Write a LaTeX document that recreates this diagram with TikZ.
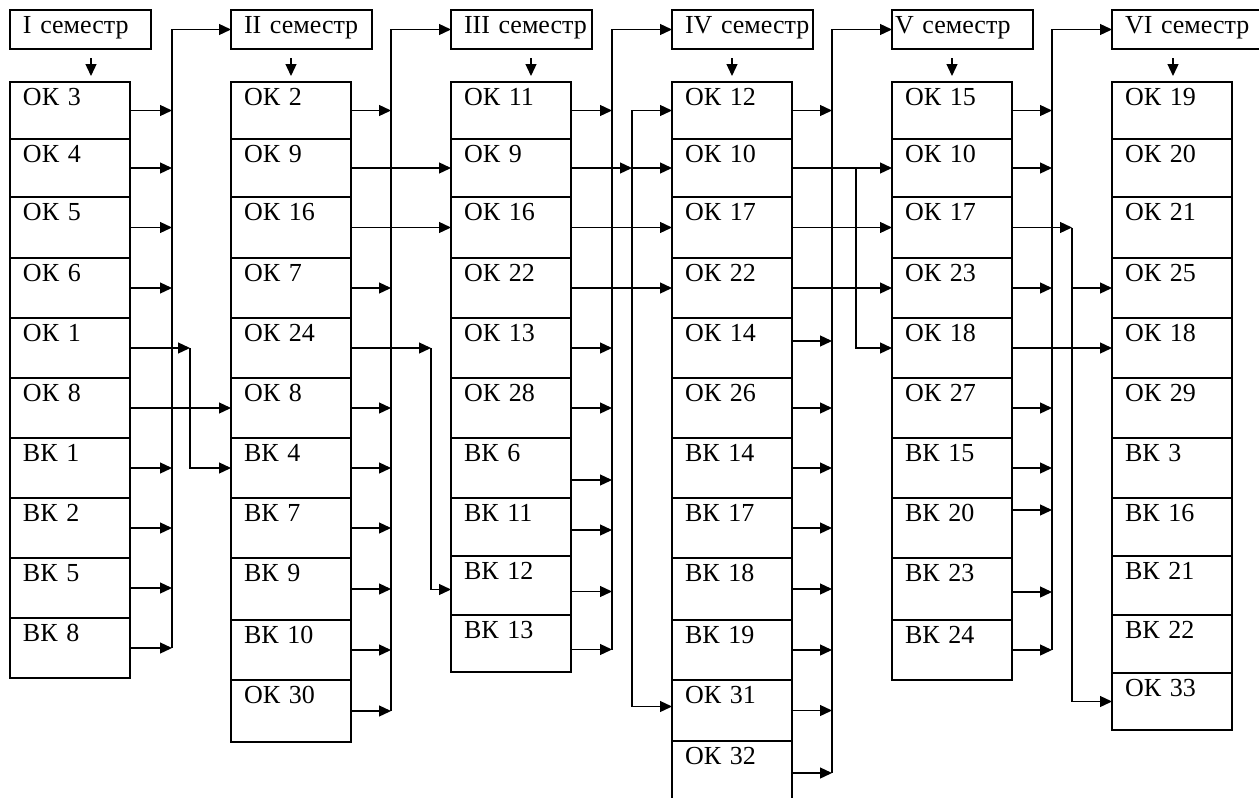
\documentclass[tikz,border=0pt]{standalone}
\usepackage{fontspec}
\setmainfont{Liberation Serif}
\usetikzlibrary{arrows.meta,calc}
\tikzset{
  ln/.style={line width=1.3pt, draw=black},
  arr/.style={ln, -{Triangle[length=12pt,width=11pt]}},
  cell/.style={draw=black, line width=1.3pt, anchor=north west, outer sep=0pt,
    inner xsep=13pt, inner ysep=0pt, text width=94pt, align=left,
    text height=23pt, font=\fontsize{26}{30}\selectfont},
  hdr/.style={cell, text width=115pt, text depth=16pt},
}
\newcommand\cellbox[5]{\pgfmathsetmacro\cbdepth{#4-#3-23}\node[cell, text depth=\cbdepth pt] (#1) at (#2,#3) {#5};}
\begin{document}
\begin{tikzpicture}[x=1pt,y=-1pt]
\useasboundingbox (0,0) rectangle (1259,798);
% headers
\node[hdr] (h1) at (10,10) {\rlap{I семестр}};
\node[hdr] (h2) at (231,10) {\rlap{II семестр}};
\node[hdr] (h3) at (451,10) {\rlap{III семестр}};
\node[hdr] (h4) at (672,10) {\rlap{IV семестр}};
\node[hdr, inner xsep=3pt, text width=135pt] (h5) at (892,10) {\rlap{V семестр}};
\node[hdr, text width=140pt] (h6) at (1112,10) {\rlap{VI семестр}};
% column I
\cellbox{c1r1}{10}{82}{139}{ОК 3}
\cellbox{c1r2}{10}{139}{197}{ОК 4}
\cellbox{c1r3}{10}{197}{258}{ОК 5}
\cellbox{c1r4}{10}{258}{318}{ОК 6}
\cellbox{c1r5}{10}{318}{378}{ОК 1}
\cellbox{c1r6}{10}{378}{438}{ОК 8}
\cellbox{c1r7}{10}{438}{498}{ВК 1}
\cellbox{c1r8}{10}{498}{558}{ВК 2}
\cellbox{c1r9}{10}{558}{618}{ВК 5}
\cellbox{c1r10}{10}{618}{678}{ВК 8}
% column II
\cellbox{c2r1}{231}{82}{139}{ОК 2}
\cellbox{c2r2}{231}{139}{197}{ОК 9}
\cellbox{c2r3}{231}{197}{258}{ОК 16}
\cellbox{c2r4}{231}{258}{318}{ОК 7}
\cellbox{c2r5}{231}{318}{378}{ОК 24}
\cellbox{c2r6}{231}{378}{438}{ОК 8}
\cellbox{c2r7}{231}{438}{498}{ВК 4}
\cellbox{c2r8}{231}{498}{558}{ВК 7}
\cellbox{c2r9}{231}{558}{620}{ВК 9}
\cellbox{c2r10}{231}{620}{680}{ВК 10}
\cellbox{c2r11}{231}{680}{742}{ОК 30}
% column III
\cellbox{c3r1}{451}{82}{139}{ОК 11}
\cellbox{c3r2}{451}{139}{197}{ОК 9}
\cellbox{c3r3}{451}{197}{258}{ОК 16}
\cellbox{c3r4}{451}{258}{318}{ОК 22}
\cellbox{c3r5}{451}{318}{378}{ОК 13}
\cellbox{c3r6}{451}{378}{438}{ОК 28}
\cellbox{c3r7}{451}{438}{498}{ВК 6}
\cellbox{c3r8}{451}{498}{556}{ВК 11}
\cellbox{c3r9}{451}{556}{615}{ВК 12}
\cellbox{c3r10}{451}{615}{672}{ВК 13}
% column IV
\cellbox{c4r1}{672}{82}{139}{ОК 12}
\cellbox{c4r2}{672}{139}{197}{ОК 10}
\cellbox{c4r3}{672}{197}{258}{ОК 17}
\cellbox{c4r4}{672}{258}{318}{ОК 22}
\cellbox{c4r5}{672}{318}{378}{ОК 14}
\cellbox{c4r6}{672}{378}{438}{ОК 26}
\cellbox{c4r7}{672}{438}{498}{ВК 14}
\cellbox{c4r8}{672}{498}{558}{ВК 17}
\cellbox{c4r9}{672}{558}{620}{ВК 18}
\cellbox{c4r10}{672}{620}{680}{ВК 19}
\cellbox{c4r11}{672}{680}{741}{ОК 31}
\cellbox{c4r12}{672}{741}{805}{ОК 32}
% column V
\cellbox{c5r1}{892}{82}{139}{ОК 15}
\cellbox{c5r2}{892}{139}{197}{ОК 10}
\cellbox{c5r3}{892}{197}{258}{ОК 17}
\cellbox{c5r4}{892}{258}{318}{ОК 23}
\cellbox{c5r5}{892}{318}{378}{ОК 18}
\cellbox{c5r6}{892}{378}{438}{ОК 27}
\cellbox{c5r7}{892}{438}{498}{ВК 15}
\cellbox{c5r8}{892}{498}{558}{ВК 20}
\cellbox{c5r9}{892}{558}{620}{ВК 23}
\cellbox{c5r10}{892}{620}{680}{ВК 24}
% column VI
\cellbox{c6r1}{1112}{82}{139}{ОК 19}
\cellbox{c6r2}{1112}{139}{197}{ОК 20}
\cellbox{c6r3}{1112}{197}{258}{ОК 21}
\cellbox{c6r4}{1112}{258}{318}{ОК 25}
\cellbox{c6r5}{1112}{318}{378}{ОК 18}
\cellbox{c6r6}{1112}{378}{438}{ОК 29}
\cellbox{c6r7}{1112}{438}{498}{ВК 3}
\cellbox{c6r8}{1112}{498}{556}{ВК 16}
\cellbox{c6r9}{1112}{556}{615}{ВК 21}
\cellbox{c6r10}{1112}{615}{673}{ВК 22}
\cellbox{c6r11}{1112}{673}{730}{ОК 33}
% down arrows under headers
\draw[arr] ($(h1.south west)+(81,9)$) -- ($(c1r1.north west)+(81,-6)$);
\draw[arr] ($(h2.south west)+(60,9)$) -- ($(c2r1.north west)+(60,-6)$);
\draw[arr] ($(h3.south west)+(80,9)$) -- ($(c3r1.north west)+(80,-6)$);
\draw[arr] ($(h4.south west)+(60,9)$) -- ($(c4r1.north west)+(60,-6)$);
\draw[arr] ($(h5.south west)+(60,9)$) -- ($(c5r1.north west)+(60,-6)$);
\draw[arr] ($(h6.south west)+(61,9)$) -- ($(c6r1.north west)+(61,-6)$);
% bus x positions
\coordinate (b1) at (172,0);
\coordinate (k1) at (190,0);
\coordinate (b2) at (391,0);
\coordinate (k2) at (431,0);
\coordinate (b3) at (612,0);
\coordinate (b3b) at (632,0);
\coordinate (b4) at (832,0);
\coordinate (k4) at (856,0);
\coordinate (b5) at (1052,0);
\coordinate (k5) at (1072,0);
% ---- column I connectors
\draw[arr] (c1r10.east -| b1) -- (h2.west -| b1) -- (h2.west);
\foreach \r in {1,2,3,4,7,8,9,10} \draw[arr] (c1r\r.east) -- (c1r\r.east -| b1);
\draw[arr] (c1r5.east) -- (c1r5.east -| k1);
\draw[arr] (c1r5.east -| k1) |- (c2r7.west);
\draw[arr] (c1r6.east) -- (c2r6.west);
% ---- column II connectors
\draw[arr] (c2r11.east -| b2) -- (h3.west -| b2) -- (h3.west);
\foreach \r in {1,4,6,7,8,9,10,11} \draw[arr] (c2r\r.east) -- (c2r\r.east -| b2);
\draw[arr] (c2r2.east) -- (c3r2.west);
\draw[arr] (c2r3.east) -- (c3r3.west);
\coordinate (t39) at ([yshift=-4pt]c3r9.west);
\draw[arr] (c2r5.east) -- (c2r5.east -| k2);
\draw[arr] (c2r5.east -| k2) |- (t39);
% ---- column III connectors
\coordinate (s37) at ([yshift=-12pt]c3r7.east);
\coordinate (s38) at ([yshift=-3pt]c3r8.east);
\coordinate (s39) at ([yshift=-6pt]c3r9.east);
\coordinate (s310) at ([yshift=-6pt]c3r10.east);
\draw[arr] (s310 -| b3) -- (h4.west -| b3) -- (h4.west);
\foreach \s in {c3r1.east,c3r5.east,c3r6.east,s37,s38,s39,s310} \draw[arr] (\s) -- (\s -| b3);
\coordinate (t411) at ([yshift=4pt]c4r11.west);
\draw[arr] (t411 -| b3b) -- (c4r1.west -| b3b) -- (c4r1.west);
\draw[arr] (t411 -| b3b) -- (t411);
\draw[arr] (c3r2.east) -- (c3r2.east -| b3b);
\draw[arr] (c3r2.east -| b3b) -- (c4r2.west);
\draw[arr] (c3r3.east) -- (c4r3.west);
\draw[arr] (c3r4.east) -- (c4r4.west);
% ---- column IV connectors
\coordinate (s45) at ([yshift=7pt]c4r5.east);
\draw[arr] (c4r12.east -| b4) -- (h5.west -| b4) -- (h5.west);
\foreach \s in {c4r1.east,s45,c4r6.east,c4r7.east,c4r8.east,c4r9.east,c4r10.east,c4r11.east,c4r12.east} \draw[arr] (\s) -- (\s -| b4);
\draw[arr] (c4r2.east) -- (c5r2.west);
\draw[arr] (c4r2.east -| k4) |- (c5r5.west);
\draw[arr] (c4r3.east) -- (c5r3.west);
\draw[arr] (c4r4.east) -- (c5r4.west);
% ---- column V connectors
\coordinate (s58) at ([yshift=18pt]c5r8.east);
\coordinate (s59) at ([yshift=-3pt]c5r9.east);
\draw[arr] (c5r10.east -| b5) -- (h6.west -| b5) -- (h6.west);
\foreach \s in {c5r1.east,c5r2.east,c5r4.east,c5r6.east,c5r7.east,s58,s59,c5r10.east} \draw[arr] (\s) -- (\s -| b5);
\draw[arr] (c5r3.east) -- (c5r3.east -| k5);
\draw[arr] (c5r3.east -| k5) |- (c6r11.west);
\draw[arr] (c6r4.west -| k5) -- (c6r4.west);
\draw[arr] (c5r5.east) -- (c6r5.west);
\end{tikzpicture}
\end{document}
